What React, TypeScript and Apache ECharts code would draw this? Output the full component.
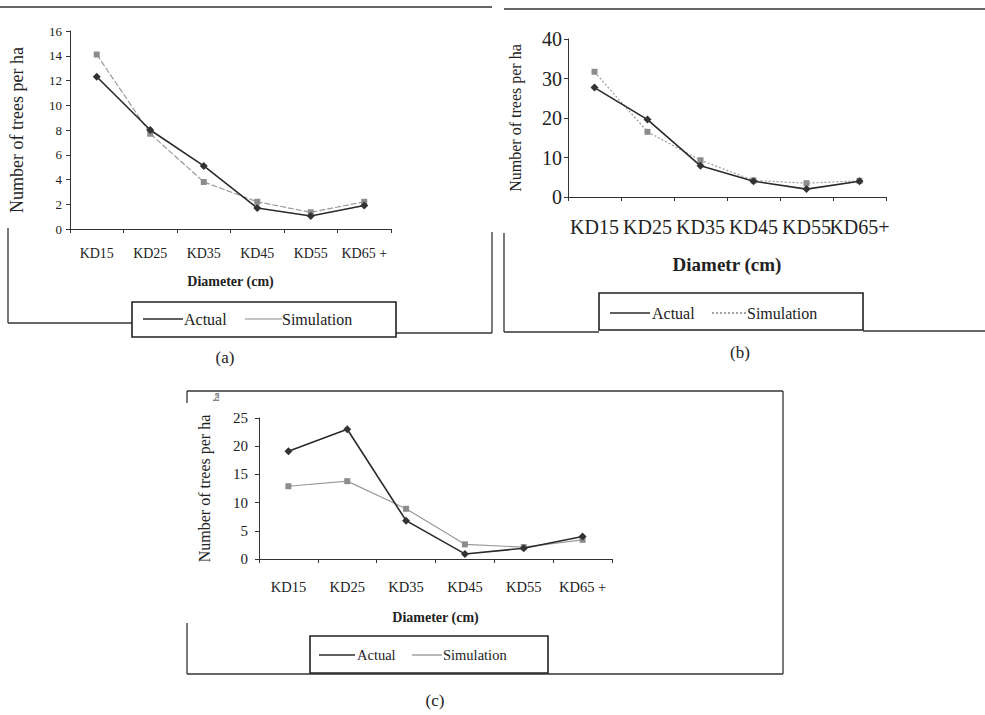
import React, { useEffect, useRef } from "react";
import * as echarts from "echarts";

const categoriesA = ["KD15", "KD25", "KD35", "KD45", "KD55", "KD65 +"];
const categoriesB = ["KD15", "KD25", "KD35", "KD45", "KD55", "KD65+"];
const categoriesC = ["KD15", "KD25", "KD35", "KD45", "KD55", "KD65 +"];

const actualA = [12.3, 8.0, 5.1, 1.7, 1.05, 1.9];
const simA = [14.1, 7.7, 3.8, 2.2, 1.35, 2.2];
const actualB = [27.7, 19.6, 7.9, 4.0, 2.0, 4.0];
const simB = [31.7, 16.5, 9.3, 4.2, 3.5, 4.1];
const actualC = [19.1, 23.0, 6.8, 0.9, 1.9, 4.0];
const simC = [12.9, 13.8, 8.9, 2.6, 2.1, 3.4];

const SERIF = "Liberation Serif";
const INK = "#222";
const GRAY = "#9a9a9a";

function frameLine(x1: number, y1: number, x2: number, y2: number, w = 1.3) {
  return { type: "line", silent: true, shape: { x1, y1, x2, y2 }, style: { stroke: "#333", lineWidth: w } };
}
function txt(text: string, x: number, y: number, size: number, extra: any = {}) {
  return {
    type: "text",
    x,
    y,
    silent: true,
    rotation: extra.rotation || 0,
    style: {
      text,
      fill: INK,
      fontSize: size,
      fontFamily: SERIF,
      fontWeight: extra.bold ? "bold" : "normal",
      align: extra.align || "left",
      verticalAlign: "middle",
    },
  };
}
function legendLine(x1: number, x2: number, y: number, color: string, dash?: number[]) {
  return { type: "line", silent: true, shape: { x1, y1: y, x2, y2: y }, style: { stroke: color, lineWidth: 1.5, lineDash: dash } };
}

export default function App() {
  const ref = useRef<HTMLDivElement>(null);
  useEffect(() => {
    if (!ref.current) return;
    const chart = echarts.init(ref.current, undefined, { renderer: "svg" });

    const xAxisBase = (gridIndex: number, data: string[], fontSize: number, margin: number, name: string, nameSize: number, nameGap: number) => ({
      type: "category",
      gridIndex,
      data,
      boundaryGap: true,
      axisLine: { lineStyle: { color: "#333", width: 1 } },
      axisTick: { show: true, length: 4, lineStyle: { color: "#333" } },
      axisLabel: { color: INK, fontFamily: SERIF, fontSize, margin, interval: 0 },
      name,
      nameLocation: "middle",
      nameGap,
      nameTextStyle: { color: INK, fontFamily: SERIF, fontSize: nameSize, fontWeight: "bold" },
      splitLine: { show: false },
    });
    const yAxisBase = (gridIndex: number, max: number, interval: number, fontSize: number, margin: number, nameSize: number, nameGap: number) => ({
      type: "value",
      gridIndex,
      min: 0,
      max,
      interval,
      axisLine: { show: true, lineStyle: { color: "#333", width: 1 } },
      axisTick: { show: true, length: 4, lineStyle: { color: "#333" } },
      axisLabel: { color: INK, fontFamily: SERIF, fontSize, margin },
      splitLine: { show: false },
      name: "Number of trees per ha",
      nameLocation: "middle",
      nameRotate: 90,
      nameGap,
      nameTextStyle: { color: INK, fontFamily: SERIF, fontSize: nameSize },
    });
    const actualSeries = (idx: number, data: number[]) => ({
      name: "Actual",
      type: "line",
      xAxisIndex: idx,
      yAxisIndex: idx,
      data,
      symbol: "diamond",
      symbolSize: 8,
      lineStyle: { color: "#2a2a2a", width: 1.6 },
      itemStyle: { color: "#333" },
      z: 3,
    });
    const simSeries = (idx: number, data: number[], type: any) => ({
      name: "Simulation",
      type: "line",
      xAxisIndex: idx,
      yAxisIndex: idx,
      data,
      symbol: "rect",
      symbolSize: 6,
      lineStyle: { color: GRAY, width: 1.2, type },
      itemStyle: { color: "#8c8c8c" },
      z: 2,
    });

    const graphic: any[] = [
      // frame (a)
      frameLine(0, 7, 492, 7),
      frameLine(8, 228, 8, 323),
      frameLine(8, 323, 132, 323),
      frameLine(396, 333, 492, 333),
      frameLine(492, 232, 492, 333),
      { type: "rect", silent: true, shape: { x: 132, y: 302, width: 264, height: 35 }, style: { fill: "#fff", stroke: "#222", lineWidth: 1.6 } },
      legendLine(143, 183, 319, "#2a2a2a"),
      txt("Actual", 184, 319, 16),
      legendLine(245, 282, 319, "#b0b0b0"),
      txt("Simulation", 282, 319, 16),
      txt("(a)", 225, 357, 17, { align: "center" }),
      // frame (b)
      frameLine(504, 9, 985, 9),
      frameLine(504, 233, 504, 332),
      frameLine(504, 332, 599, 332),
      frameLine(863, 331, 985, 331),
      { type: "rect", silent: true, shape: { x: 599, y: 293, width: 264, height: 37 }, style: { fill: "#fff", stroke: "#222", lineWidth: 1.6 } },
      legendLine(610, 650, 313, "#2a2a2a"),
      txt("Actual", 652, 313, 16),
      legendLine(712, 747, 313, "#888", [2, 2]),
      txt("Simulation", 747, 313, 16),
      txt("(b)", 740, 352, 17, { align: "center" }),
      // frame (c)
      frameLine(187, 391, 783, 391),
      frameLine(783, 391, 783, 674),
      frameLine(187, 674, 783, 674),
      frameLine(187, 391, 187, 403),
      frameLine(187, 623, 187, 674),
      { type: "rect", silent: true, shape: { x: 310, y: 636, width: 238, height: 37 }, style: { fill: "#fff", stroke: "#222", lineWidth: 1.6 } },
      legendLine(319, 355, 655, "#2a2a2a"),
      txt("Actual", 357, 655, 14.5),
      legendLine(412, 442, 655, "#a0a0a0"),
      txt("Simulation", 443, 655, 14.5),
      txt("ha", 216, 397, 9, { align: "center", rotation: Math.PI / 2 }),
      txt("(c)", 435, 700, 17, { align: "center" }),
    ];

    chart.setOption({
      animation: false,
      backgroundColor: "#ffffff",
      textStyle: { fontFamily: SERIF },
      grid: [
        { left: 70, top: 31, width: 321, height: 198 },
        { left: 568, top: 39, width: 318, height: 158 },
        { left: 259, top: 418, width: 353, height: 141 },
      ],
      xAxis: [
        xAxisBase(0, categoriesA, 14, 17, "Diameter (cm)", 14, 45),
        xAxisBase(1, categoriesB, 20, 20, "Diametr (cm)", 19, 58),
        xAxisBase(2, categoriesC, 14.5, 20, "Diameter (cm)", 14, 51),
      ],
      yAxis: [
        yAxisBase(0, 16, 2, 13, 8, 18, 44),
        yAxisBase(1, 40, 10, 20, 6, 16, 45),
        yAxisBase(2, 25, 5, 15, 11, 16, 47),
      ],
      series: [
        actualSeries(0, actualA),
        simSeries(0, simA, [6, 2]),
        actualSeries(1, actualB),
        simSeries(1, simB, [2, 2]),
        actualSeries(2, actualC),
        simSeries(2, simC, "solid"),
      ],
      graphic,
    });
    return () => chart.dispose();
  }, []);
  return <div ref={ref} style={{ position: "fixed", left: 0, top: 0, width: 985, height: 715, background: "#fff" }} />;
}
